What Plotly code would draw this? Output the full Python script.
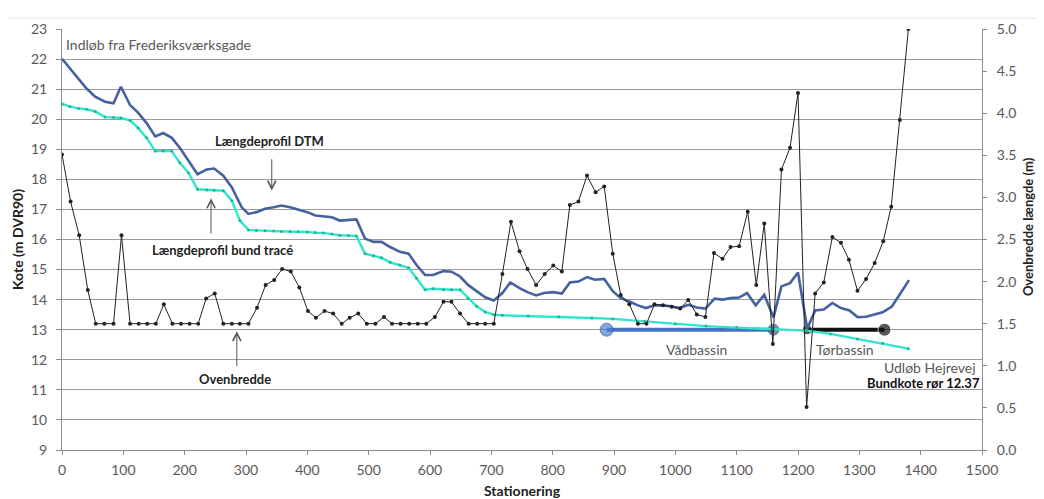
import plotly.graph_objects as go

# --- Ovenbredde (right axis, m) ---
ob_station = [0, 14, 28, 42, 55, 69, 84, 97, 111, 125, 139, 153, 166, 180, 194, 208, 222, 235, 249, 263,
              277, 290, 304, 318, 332, 346, 359, 373, 387, 401, 414, 428, 442, 456, 469, 483, 497, 511, 525, 538,
              552, 566, 580, 594, 608, 622, 635, 649, 663, 677, 690, 704, 718, 732, 746, 759, 773, 787, 801, 815,
              828, 842, 856, 870, 884, 898, 911, 925, 939, 953, 966, 980, 994, 1008, 1021, 1035, 1049, 1063, 1077, 1090,
              1104, 1118, 1132, 1145, 1159, 1173, 1187, 1200, 1214, 1228, 1242, 1256, 1270, 1283, 1297, 1311, 1325, 1339, 1352, 1366,
              1380]
ob_width = [3.51, 2.95, 2.55, 1.90, 1.50, 1.50, 1.50, 2.55, 1.50, 1.50, 1.50, 1.50, 1.73, 1.50, 1.50, 1.50, 1.50, 1.80, 1.86, 1.50,
            1.50, 1.50, 1.50, 1.69, 1.96, 2.02, 2.15, 2.12, 1.93, 1.65, 1.57, 1.65, 1.62, 1.50, 1.57, 1.62, 1.50, 1.50, 1.58, 1.50,
            1.50, 1.50, 1.50, 1.50, 1.58, 1.76, 1.76, 1.62, 1.50, 1.50, 1.50, 1.50, 2.09, 2.71, 2.36, 2.15, 1.96, 2.09, 2.19, 2.12,
            2.91, 2.95, 3.26, 3.06, 3.13, 2.33, 1.84, 1.73, 1.50, 1.50, 1.73, 1.72, 1.70, 1.68, 1.78, 1.61, 1.58, 2.34, 2.27, 2.41,
            2.42, 2.83, 1.96, 2.69, 1.26, 3.33, 3.59, 4.24, 0.51, 1.86, 1.99, 2.53, 2.46, 2.26, 1.89, 2.03, 2.22, 2.48, 2.89, 3.92,
            5.00]

# --- Længdeprofil DTM (left axis, m DVR90) ---
dtm_station = [0, 13, 27, 40, 54, 70, 84, 96, 111, 124, 138, 152, 165, 179, 192, 206, 221, 236, 248, 263,
               277, 293, 304, 317, 331, 345, 358, 372, 385, 400, 413, 426, 440, 453, 467, 480, 494, 508, 521, 535,
               551, 565, 578, 592, 605, 622, 635, 649, 662, 676, 690, 704, 718, 731, 746, 759, 773, 786, 801, 815,
               828, 842, 856, 869, 884, 898, 911, 925, 939, 952, 966, 979, 993, 1007, 1021, 1035, 1049, 1064, 1077, 1090,
               1104, 1117, 1131, 1145, 1160, 1173, 1187, 1200, 1215, 1228, 1242, 1256, 1270, 1284, 1297, 1311, 1325, 1338, 1353, 1366,
               1381]
dtm_kote = [22.01, 21.68, 21.35, 21.02, 20.75, 20.58, 20.53, 21.08, 20.47, 20.22, 19.87, 19.43, 19.54, 19.38, 19.05, 18.61, 18.17, 18.33, 18.36, 18.12,
            17.73, 17.07, 16.85, 16.91, 17.02, 17.07, 17.13, 17.07, 17.00, 16.91, 16.80, 16.77, 16.74, 16.63, 16.65, 16.67, 16.03, 15.92, 15.92, 15.75,
            15.59, 15.53, 15.15, 14.82, 14.82, 14.95, 14.93, 14.77, 14.49, 14.27, 14.08, 13.97, 14.22, 14.57, 14.38, 14.25, 14.14, 14.22, 14.25, 14.20,
            14.57, 14.60, 14.75, 14.66, 14.69, 14.28, 14.05, 13.94, 13.81, 13.72, 13.81, 13.81, 13.78, 13.72, 13.83, 13.74, 13.70, 14.03, 14.00, 14.05,
            14.07, 14.22, 13.81, 14.16, 13.41, 14.44, 14.55, 14.90, 13.04, 13.64, 13.67, 13.89, 13.72, 13.64, 13.42, 13.43, 13.50, 13.58, 13.77, 14.16,
            14.65]

# --- Længdeprofil bund tracé (left axis) ---
bund_station = [0, 13, 27, 40, 54, 70, 84, 96, 111, 124, 138, 152, 165, 179, 192, 206, 221, 236, 248, 263,
                277, 290, 304, 317, 331, 345, 358, 372, 385, 400, 413, 426, 440, 453, 467, 480, 494, 508, 521, 535,
                551, 565, 578, 592, 605, 622, 635, 649, 662, 676, 690, 704, 718, 760, 810, 864, 898, 950, 1000, 1050,
                1100, 1160, 1215, 1253, 1297, 1338, 1380]
bund_kote = [20.51, 20.42, 20.36, 20.33, 20.26, 20.07, 20.06, 20.04, 19.96, 19.71, 19.38, 18.94, 18.94, 18.94, 18.55, 18.22, 17.67, 17.65, 17.64, 17.62,
             17.29, 16.63, 16.32, 16.30, 16.29, 16.28, 16.27, 16.27, 16.26, 16.25, 16.23, 16.22, 16.18, 16.14, 16.13, 16.12, 15.53, 15.46, 15.39, 15.24,
             15.15, 15.06, 14.71, 14.33, 14.36, 14.33, 14.33, 14.33, 14.05, 13.78, 13.59, 13.50, 13.48, 13.46, 13.43, 13.39, 13.36, 13.28, 13.19, 13.12,
             13.07, 13.02, 12.97, 12.86, 12.69, 12.55, 12.37]

# --- Bassiner ---
vad_station = [888, 1160]
vad_kote = [13.0, 13.0]
tor_station = [1215, 1341]
tor_kote = [13.0, 13.0]

x_ticks = list(range(0, 1501, 100))

FONT = "Lato"
GRAY = "#595959"

# page body has an 8px margin: compensate so the plot lands where the reference has it
OFF = 8
W, H = 1044 - OFF, 499 - OFF
L, T = 62 - OFF, 25 - OFF
R = W - L - 920
B = H - T - 425
pw, ph = W - L - R, H - T - B

fig = go.Figure()

fig.add_trace(go.Scatter(x=vad_station, y=vad_kote, mode="lines+markers",
                         line=dict(color="#4472c4", width=4),
                         marker=dict(size=[13, 11], color=["#4f7fcf", "#3b5a8a"],
                                     line=dict(color="#2f528f", width=1)),
                         showlegend=False, hoverinfo="skip"))
fig.add_trace(go.Scatter(x=tor_station, y=tor_kote, mode="lines+markers",
                         line=dict(color="#111111", width=4),
                         marker=dict(size=[10, 13], color="#111111"),
                         showlegend=False, hoverinfo="skip"))
fig.add_trace(go.Scatter(x=dtm_station, y=dtm_kote, mode="lines",
                         line=dict(color="#45619f", width=2.6),
                         name="Længdeprofil DTM", showlegend=False))
fig.add_trace(go.Scatter(x=bund_station, y=bund_kote, mode="lines+markers",
                         line=dict(color="#2fe6cc", width=2.4),
                         marker=dict(size=3, color="#1fb894"),
                         name="Længdeprofil bund tracé", showlegend=False))
fig.add_trace(go.Scatter(x=ob_station, y=ob_width, mode="lines+markers", yaxis="y2",
                         line=dict(color="#222222", width=1),
                         marker=dict(size=4, color="#222222"),
                         name="Ovenbredde", showlegend=False))

ann = []
def txt(x, y, s, bold=False, color=GRAY, size=14, xanchor="center"):
    ann.append(dict(x=x, y=y, xref="x", yref="y", text=(f"<b>{s}</b>" if bold else s),
                    showarrow=False, xanchor=xanchor, yanchor="middle",
                    font=dict(family=FONT, size=size, color=color)))

def arrow(x, yhead, ytail):
    ann.append(dict(x=x, y=yhead, ax=x, ay=ytail, xref="x", yref="y", axref="x", ayref="y",
                    text="", showarrow=True, arrowhead=5, arrowsize=1.6, arrowwidth=1,
                    arrowcolor="#555555"))

txt(3, 22.5, "Indløb fra Frederiksværksgade", xanchor="left", size=14)
txt(339, 19.28, "Længdeprofil DTM", bold=True, color="#222222", size=13)
arrow(342, 17.63, 18.72)
txt(261, 15.65, "Længdeprofil bund tracé", bold=True, color="#222222", size=13)
arrow(243, 17.37, 16.15)
txt(282, 11.37, "Ovenbredde", bold=True, color="#222222", size=13)
arrow(285, 12.95, 11.74)
txt(1035, 12.33, "Vådbassin", size=14)
txt(1277, 12.33, "Tørbassin", size=14)
txt(1494, 11.74, "Udløb Hejrevej", xanchor="right", size=14)
txt(1500, 11.24, "Bundkote rør 12.37", bold=True, color="#111111", size=13, xanchor="right")

# axis titles, placed by window pixel position
def title(px, py, s, angle, size):
    ann.append(dict(x=(px - OFF - L) / pw, y=(H - B - (py - OFF)) / ph, xref="paper", yref="paper",
                    xanchor="center", yanchor="middle",
                    text=f"<b>{s}</b>", showarrow=False, textangle=angle,
                    font=dict(family=FONT, size=size, color="#222222")))

title(18, 238, "Kote (m DVR90)", -90, 14)
title(1028, 225, "Ovenbredde længde (m)", -90, 13)
title(522, 491, "Stationering", 0, 14)

fig.update_layout(
    width=W, height=H,
    margin=dict(l=L, r=R, t=T, b=B),
    paper_bgcolor="white", plot_bgcolor="white",
    font=dict(family=FONT, size=14, color=GRAY),
    xaxis=dict(range=[0, 1500], tickvals=x_ticks, showgrid=False, zeroline=False,
               showline=True, linecolor="#8c8c8c", linewidth=1,
               ticks="outside", ticklen=4, tickcolor="#8c8c8c", ticklabelstandoff=3,
               tickfont=dict(family=FONT, size=14, color=GRAY)),
    yaxis=dict(range=[9, 23], dtick=1, showgrid=True, gridcolor="#9c9c9c", gridwidth=1.3,
               zeroline=False, showline=True, linecolor="#8c8c8c", linewidth=1,
               ticks="outside", ticklen=5, tickcolor="#8c8c8c", ticklabelstandoff=6,
               tickfont=dict(family=FONT, size=14, color=GRAY)),
    yaxis2=dict(range=[0, 5], dtick=0.5, tickformat=".1f", overlaying="y", side="right",
                showgrid=False, zeroline=False, showline=True, linecolor="#8c8c8c", linewidth=1,
                ticks="outside", ticklen=4, tickcolor="#8c8c8c", ticklabelstandoff=7,
                tickfont=dict(family=FONT, size=14, color=GRAY)),
    annotations=ann,
    shapes=[dict(type="line", xref="paper", yref="paper",
                 x0=(5 - OFF - L) / pw, x1=(1036 - L) / pw,
                 y0=(H - B - (14 - OFF)) / ph, y1=(H - B - (14 - OFF)) / ph,
                 line=dict(color="#e4e4e4", width=1))],
)

fig.write_html("out.html")
